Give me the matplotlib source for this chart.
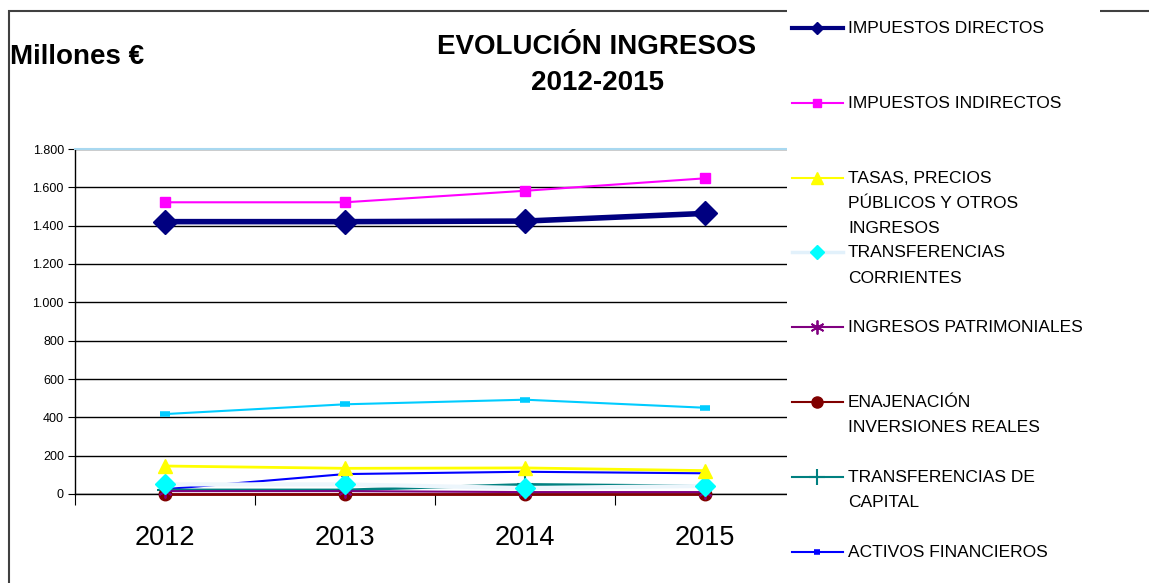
import matplotlib.pyplot as plt
from matplotlib.lines import Line2D
from matplotlib.patches import Rectangle

plt.rcParams['font.family'] = ['Liberation Sans', 'DejaVu Sans']

years = ['2012', '2013', '2014', '2015']

# valores en millones de euros
impuestos_directos = [1421, 1421, 1424, 1464]
impuestos_indirectos = [1522, 1522, 1582, 1647]
tasas_precios = [146, 134, 136, 122]
transf_corrientes = [50, 50, 31, 42]
ingresos_patrimoniales = [15, 15, 10, 10]
enajenacion = [2, 2, 2, 2]
transf_capital = [21, 21, 50, 42]
activos_financieros = [25, 104, 116, 108]
pasivos_financieros = [417, 468, 492, 450]

series = [
    ('IMPUESTOS DIRECTOS', impuestos_directos,
     dict(color='#000080', lw=4, marker='D', ms=12), dict(lw=3, ms=6)),
    ('IMPUESTOS INDIRECTOS', impuestos_indirectos,
     dict(color='#ff00ff', lw=1.5, marker='s', ms=7), dict(lw=1.5, ms=6)),
    ('TASAS, PRECIOS\nPÚBLICOS Y OTROS\nINGRESOS', tasas_precios,
     dict(color='#ffff00', lw=2, marker='^', ms=10), dict(lw=1.5, ms=9)),
    ('TRANSFERENCIAS\nCORRIENTES', transf_corrientes,
     dict(color='#edf6fc', lw=3, marker='D', ms=10, mfc='#00ffff', mec='#00ffff'), dict(lw=2.5, ms=7)),
    ('INGRESOS PATRIMONIALES', ingresos_patrimoniales,
     dict(color='#800080', lw=1.5, marker=(6, 2, 0), ms=10, mew=1.3), dict(lw=1.5, ms=10)),
    ('ENAJENACIÓN\nINVERSIONES REALES', enajenacion,
     dict(color='#800000', lw=2, marker='o', ms=9), dict(lw=1.5, ms=8)),
    ('TRANSFERENCIAS DE\nCAPITAL', transf_capital,
     dict(color='#008080', lw=2, marker='+', ms=12, mew=1.5), dict(lw=1.5, ms=11)),
    ('ACTIVOS FINANCIEROS', activos_financieros,
     dict(color='#0000ff', lw=1.5, marker='_', ms=6, mew=4), dict(lw=1.5, ms=5)),
]
pasivos_style = dict(color='#00ccff', lw=1.5, marker='_', ms=7, mew=4)

W, H = 1149, 583
fig = plt.figure(figsize=(W / 100, H / 100), dpi=100)


def fx(px):
    return px / W


def fy(py):
    return 1 - py / H


ax = fig.add_axes([fx(75), fy(494), fx(795) - fx(75), fy(149) - fy(494)])
x = range(len(years))

ax.plot(x, pasivos_financieros, clip_on=False, zorder=3, **pasivos_style)
for label, vals, st, _ in reversed(series):
    ax.plot(x, vals, clip_on=False, zorder=3, **st)

ax.set_xlim(-0.5, 3.5)
ax.set_ylim(0, 1800)
ax.set_yticks(range(0, 1801, 200))
ax.set_yticklabels([f'{v:,}'.replace(',', '.') for v in range(0, 1801, 200)], fontsize=9)
ax.set_xticks([-0.5, 0.5, 1.5, 2.5, 3.5])
ax.set_xticklabels([])
ax.set_xticks(list(x), minor=True)
ax.set_xticklabels(years, minor=True, fontsize=19.5)
ax.tick_params(axis='x', which='major', length=8, direction='out', color='black')
ax.tick_params(axis='x', which='minor', length=0, pad=22)
ax.tick_params(axis='y', length=5, direction='out', pad=3)
ax.grid(axis='y', color='black', lw=1)
ax.set_axisbelow(True)
ax.spines['right'].set_visible(False)
ax.spines['top'].set_color('#a8d8f0')
ax.spines['top'].set_linewidth(1.5)
ax.spines['left'].set_linewidth(1)
ax.spines['bottom'].set_linewidth(1)

# marco del grafico
fig.add_artist(Rectangle((fx(9), -0.05), 1.2, fy(11) + 0.05, transform=fig.transFigure,
                         fill=False, edgecolor='#404040', lw=1.5, zorder=0))
# fondo blanco de la leyenda
fig.add_artist(Rectangle((fx(787), 0), fx(1100) - fx(787), 1, transform=fig.transFigure,
                         facecolor='white', edgecolor='none', zorder=1))

fig.text(fx(10), fy(57), 'Millones €', fontsize=20, fontweight='bold', va='center', ha='left')
fig.text(fx(597), fy(65), 'EVOLUCIÓN INGRESOS\n2012-2015', fontsize=20, fontweight='bold',
         ha='center', va='center', linespacing=1.5)

# leyenda manual
for i, (label, vals, st, lg) in enumerate(series):
    y = fy(28 + 74.8 * i)
    line_color = st['color'] if i != 3 else '#e2f1fb'
    fig.add_artist(Line2D([fx(792), fx(843)], [y, y], transform=fig.transFigure,
                          color=line_color, lw=lg['lw'], zorder=2))
    mk = dict(marker=st['marker'], ms=lg['ms'], color=st.get('mfc', line_color),
              mec=st.get('mec', line_color), mew=st.get('mew', 1))
    fig.add_artist(Line2D([fx(817)], [y], transform=fig.transFigure, lw=0, zorder=2, **mk))
    fig.text(fx(848), y + 7 / H, label, fontsize=12.5, va='top', ha='left',
             linespacing=1.85, zorder=3)

fig.savefig('out.png', dpi=100)
